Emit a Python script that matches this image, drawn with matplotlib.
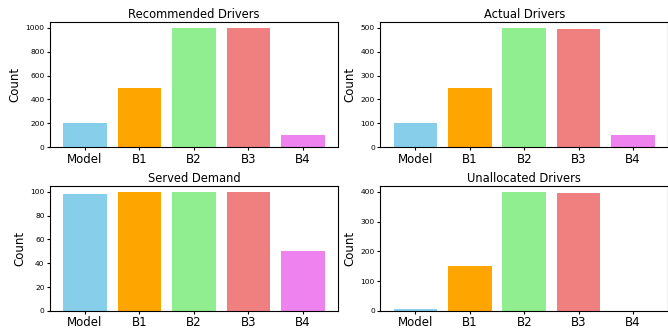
import matplotlib
matplotlib.use('Agg')
import matplotlib.pyplot as plt
from matplotlib.ticker import MaxNLocator

labels = ['Model', 'B1', 'B2', 'B3', 'B4']
colors = ['skyblue', 'orange', 'lightgreen', 'lightcoral', 'violet']

recommended = [200, 500, 1000, 1000, 100]
actual = [103, 250, 500, 497, 50]
served = [98, 100, 100, 100, 50]
unallocated = [5, 150, 400, 397, 0]

titles = ['Recommended Drivers', 'Actual Drivers', 'Served Demand', 'Unallocated Drivers']
series = [recommended, actual, served, unallocated]

fig, axes = plt.subplots(2, 2, figsize=(6.68, 3.28), dpi=100)
fig.subplots_adjust(left=0.075, right=1.0, top=0.933, bottom=0.052,
                    wspace=0.149, hspace=0.31)

for ax, title, vals in zip(axes.flat, titles, series):
    ax.bar(labels, vals, color=colors)
    ax.set_title(title, fontsize=8.3, pad=3)
    ax.set_ylabel('Count', fontsize=8.5, labelpad=3)
    ax.yaxis.set_major_locator(MaxNLocator(nbins=6, steps=[1, 2, 5, 10]))
    ax.tick_params(axis='x', labelsize=8.5, length=2.5, pad=1.5)
    ax.tick_params(axis='y', labelsize=5.4, length=2.5, pad=1.5)

fig.savefig('out.png', dpi=100)
